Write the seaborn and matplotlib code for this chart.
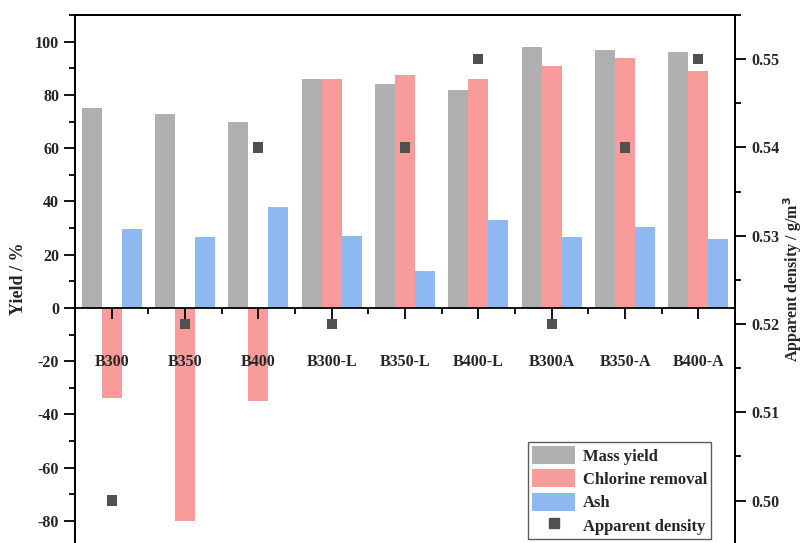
import numpy as np
import pandas as pd
import matplotlib
matplotlib.use("Agg")
import matplotlib.pyplot as plt
from matplotlib.patches import Patch
from matplotlib.lines import Line2D
from matplotlib.ticker import MultipleLocator, FixedLocator
import seaborn as sns

samples = ["B300", "B350", "B400", "B300-L", "B350-L", "B400-L", "B300A", "B350-A", "B400-A"]
mass_yield = [75, 73, 70, 86, 84, 82, 98, 97, 96]
chlorine_removal = [-34, -80, -35, 86, 87.5, 86, 91, 94, 89]
ash = [29.5, 26.5, 38, 27, 14, 33, 26.5, 30.5, 26]
apparent_density = [0.50, 0.52, 0.54, 0.52, 0.54, 0.55, 0.52, 0.54, 0.55]

series_names = ["Mass yield", "Chlorine removal", "Ash"]
colors = ["#B0B0B0", "#F89B9B", "#8EB8F0"]
density_color = "#505050"

df = pd.DataFrame({
    "sample": samples * 3,
    "series": np.repeat(series_names, len(samples)),
    "value": mass_yield + chlorine_removal + ash,
})

sns.set_theme(style="ticks")
plt.rcParams["font.family"] = ["Liberation Serif", "DejaVu Serif"]
plt.rcParams["font.weight"] = "bold"
plt.rcParams["axes.unicode_minus"] = False

fig = plt.figure(figsize=(8.04, 5.43), dpi=100)
W, H = 804, 543
ax = fig.add_axes([75 / W, 0, 660 / W, (H - 15) / H])

sns.barplot(data=df, x="sample", y="value", hue="series", order=samples,
            hue_order=series_names, palette=colors, saturation=1,
            width=0.82, ax=ax, legend=False, edgecolor="none", linewidth=0)

ax.set_xlim(-0.5, len(samples) - 0.5)
ax.set_ylim(-88.3, 110)
ax.set_xlabel("")
ax.set_ylabel("Yield / %", fontsize=13, fontweight="bold", labelpad=6)

# x axis drawn along the zero line, labels above the bars
ax.spines["bottom"].set_position(("data", 0))
ax.spines["bottom"].set_zorder(5)
ax.xaxis.set_zorder(6)
for s in ax.spines.values():
    s.set_linewidth(1.3)
    s.set_color("black")
ax.xaxis.set_minor_locator(FixedLocator(np.arange(0.5, len(samples) - 0.5, 1)))
ax.tick_params(axis="x", which="major", direction="out", length=8, width=1.3,
               labelsize=11.5, pad=25, color="black")
ax.tick_params(axis="x", which="minor", direction="out", length=4, width=1.3, color="black")
for lbl in ax.get_xticklabels():
    lbl.set_fontweight("bold")

ax.yaxis.set_minor_locator(MultipleLocator(10))
ax.tick_params(axis="y", which="major", direction="out", length=8, width=1.3,
               labelsize=11.5, color="black")
ax.tick_params(axis="y", which="minor", direction="out", length=4, width=1.3, color="black")
ax.set_yticks([-80, -60, -40, -20, 0, 20, 40, 60, 80, 100])
for lbl in ax.get_yticklabels():
    lbl.set_fontweight("bold")

# apparent density on the secondary axis
ax2 = ax.twinx()
sns.scatterplot(x=np.arange(len(samples)), y=apparent_density, ax=ax2,
                marker="s", s=55, color=density_color, edgecolor="none", zorder=6)
ax2.set_ylim(0.4952, 0.555)
ax2.yaxis.set_minor_locator(MultipleLocator(0.005))
ax2.tick_params(axis="y", which="major", direction="out", length=8, width=1.3,
                labelsize=11.5, color="black")
ax2.tick_params(axis="y", which="minor", direction="out", length=4, width=1.3, color="black")
ax2.set_yticks([0.50, 0.51, 0.52, 0.53, 0.54, 0.55])
ax2.set_yticklabels(["0.50", "0.51", "0.52", "0.53", "0.54", "0.55"], fontweight="bold")
ax2.set_ylabel("Apparent density / g/m$^3$", fontsize=11.5, fontweight="bold")
ax2.yaxis.set_label_coords((781 - 75) / 660, 0.5)
ax2.spines["bottom"].set_visible(False)
for s in ax2.spines.values():
    s.set_linewidth(1.3)
    s.set_color("black")

handles = [Patch(facecolor=c, edgecolor="none") for c in colors]
handles.append(Line2D([], [], marker="s", linestyle="none", color=density_color,
                      markersize=7.5))
leg = ax2.legend(handles, series_names + ["Apparent density"],
                 loc="lower right", bbox_to_anchor=(0.964, 0.008),
                 prop={"family": "Liberation Serif", "weight": "bold", "size": 12},
                 handlelength=2.6, handleheight=1.3, labelspacing=0.28,
                 borderpad=0.25, handletextpad=0.45, borderaxespad=0,
                 fancybox=False, frameon=True, edgecolor="#333333")
leg.get_frame().set_linewidth(1.0)

fig.savefig("out.png", dpi=100)
